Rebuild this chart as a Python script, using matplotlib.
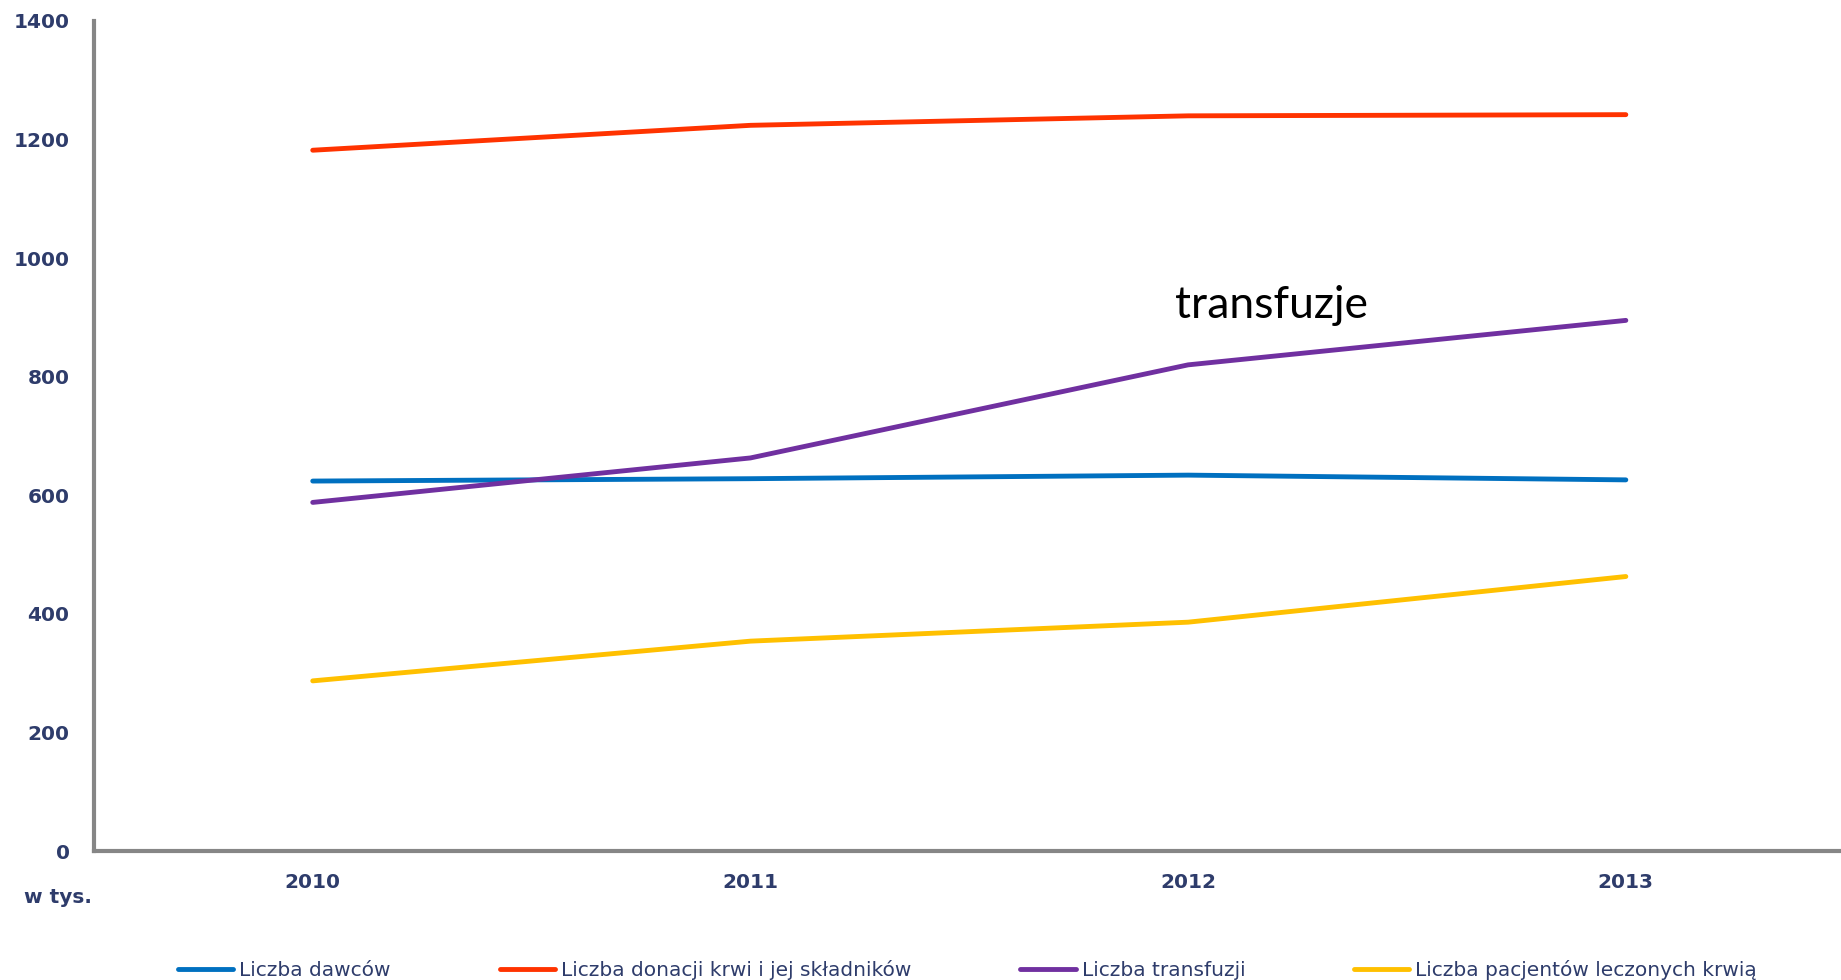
import matplotlib
matplotlib.use("Agg")
import matplotlib.pyplot as plt

# dane (w tys.)
years = ["2010", "2011", "2012", "2013"]
dawcy = [624, 628, 634, 626]
donacje = [1182, 1224, 1240, 1242]
transfuzje = [588, 663, 820, 895]
pacjenci = [287, 354, 386, 463]

labels = ["Liczba dawców", "Liczba donacji krwi i jej składników",
          "Liczba transfuzji", "Liczba pacjentów leczonych krwią"]
colors = ["#0070C0", "#FF3300", "#7030A0", "#FFC000"]
yticks = [0, 200, 400, 600, 800, 1000, 1200, 1400]

tick_color = "#2E3C6B"

fig = plt.figure(figsize=(18.41, 9.80), dpi=100)
ax = fig.add_axes([0.051, 0.1316, 0.951, 0.847])

x = range(len(years))
for series, lab, col in zip([dawcy, donacje, transfuzje, pacjenci], labels, colors):
    ax.plot(x, series, color=col, lw=3.5, label=lab, solid_capstyle="round")

ax.set_xlim(-0.5, 3.5)
ax.set_ylim(0, 1400)
ax.set_xticks(list(x))
ax.set_xticklabels(years)
ax.set_yticks(yticks)
ax.tick_params(length=0, labelsize=14.5, labelcolor=tick_color)
for t in ax.get_xticklabels() + ax.get_yticklabels():
    t.set_fontweight("bold")
ax.tick_params(axis="y", pad=17.5)
ax.tick_params(axis="x", pad=16)

for s in ["top", "right"]:
    ax.spines[s].set_visible(False)
for s in ["left", "bottom"]:
    ax.spines[s].set_color("#868686")
    ax.spines[s].set_linewidth(3)

ax.text(1.97, 920, "transfuzje", fontsize=32, family="Lato", va="center", color="black")

fig.text(0.0128, 0.084, "w tys.", fontsize=14.5, fontweight="bold", color=tick_color, va="center")

leg = ax.legend(loc="center", bbox_to_anchor=(0.499, -0.143), ncol=4, frameon=False,
                fontsize=14.5, handlelength=2.75, handletextpad=0.3, columnspacing=5.4)
for t in leg.get_texts():
    t.set_color(tick_color)

fig.savefig("out.png", dpi=100)
